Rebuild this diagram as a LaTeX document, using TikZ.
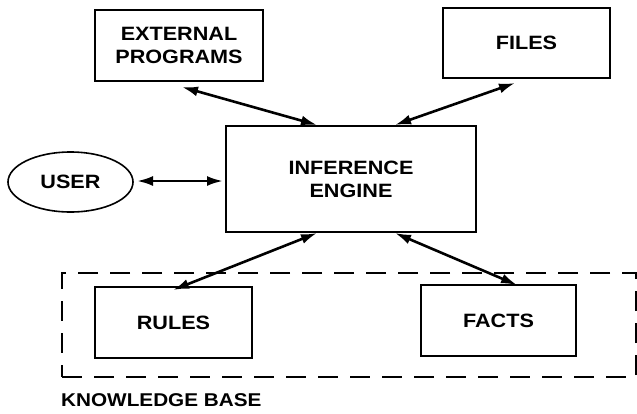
\documentclass[tikz,border=0pt]{standalone}
\usepackage{fontspec}
\setmainfont{Liberation Sans}[BoldFont={Liberation Sans Bold},BoldFeatures={FakeStretch=1.12}]
\usetikzlibrary{arrows.meta,shapes.geometric}
\begin{document}
\begin{tikzpicture}[x=1pt,y=-1pt,
  box/.style={draw,line width=1.6pt,inner sep=0pt,align=center,
    font=\fontsize{19.3}{23}\selectfont\bfseries},
  link/.style={line width=2.6pt,{Latex[length=16pt,width=10pt]}-{Latex[length=16pt,width=10pt]}},
  kb/.style={draw,line width=1.6pt,dash pattern=on 20pt off 12pt}]
\useasboundingbox (0,0) rectangle (637,413);
\node[box,minimum width=168pt,minimum height=71pt] (ext) at (179,45.5) {EXTERNAL\\PROGRAMS};
\node[box,minimum width=167pt,minimum height=70pt] (files) at (526.5,43) {FILES};
\node[box,ellipse,minimum width=125pt,minimum height=60pt] (user) at (70.5,182) {USER};
\node[box,minimum width=250pt,minimum height=106pt] (ie) at (351,179) {INFERENCE\\ENGINE};
\node[box,minimum width=157pt,minimum height=71pt] (rules) at (173.5,322.5) {RULES};
\node[box,minimum width=155pt,minimum height=71pt] (facts) at (498.5,320.5) {FACTS};
\node[kb,minimum width=574pt,minimum height=104pt,inner sep=0pt] (kbase) at (349,325) {};
\node[font=\fontsize{18.5}{23}\selectfont\bfseries,anchor=base west,inner sep=0pt] (kbl) at (61,406) {KNOWLEDGE BASE};
\coordinate (e1) at (182,87);
\coordinate (i1) at (317,125);
\coordinate (i2) at (395,125);
\coordinate (f1) at (515,83);
\coordinate (i3) at (317,233);
\coordinate (r1) at (173,290);
\coordinate (i4) at (395,233);
\coordinate (fa1) at (517,285);
\coordinate (u1) at (137,181);
\coordinate (i5) at (223,181);
\draw[link] (e1) -- (i1);
\draw[link] (i2) -- (f1);
\draw[link] (i3) -- (r1);
\draw[link] (i4) -- (fa1);
\draw[link] (u1) -- (i5);
\end{tikzpicture}
\end{document}
